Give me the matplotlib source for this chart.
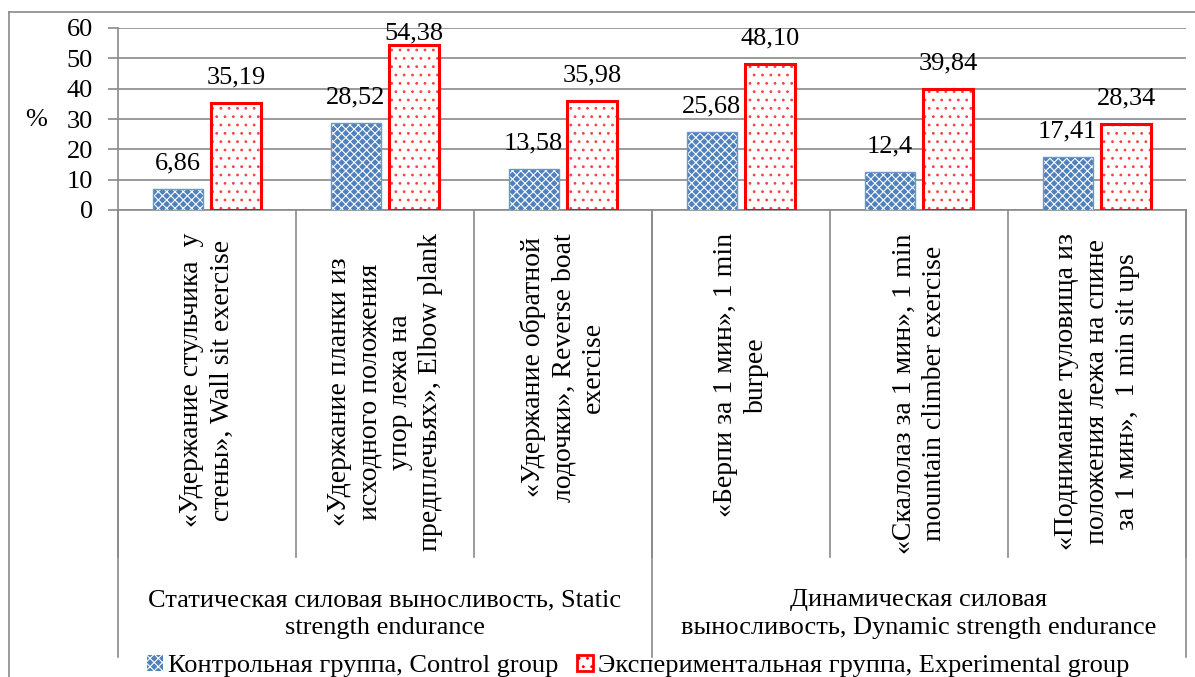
import numpy as np
import matplotlib
matplotlib.use('Agg')
from matplotlib import pyplot as plt
from matplotlib.patches import Patch
import matplotlib.transforms as mtransforms

plt.rcParams['font.family'] = ['Liberation Serif', 'DejaVu Serif']
plt.rcParams['hatch.linewidth'] = 0.8

# data
exercises = [
    '«Удержание стульчика  у\nстены», Wall sit exercise',
    '«Удержание планки из\nисходного положения\nупор лежа на\nпредплечьях», Elbow plank',
    '«Удержание обратной\nлодочки», Reverse boat\nexercise',
    '«Берпи за 1 мин», 1 min\nburpee',
    '«Скалолаз за 1 мин», 1 min\nmountain climber exercise',
    '«Поднимание туловища из\nположения лежа на спине\nза 1 мин»,  1 min sit ups',
]
groups = ['Статическая силовая выносливость, Static\nstrength endurance',
          'Динамическая силовая\nвыносливость, Dynamic strength endurance']
group_sizes = [3, 3]
control = [6.86, 28.52, 13.58, 25.68, 12.4, 17.41]
experimental = [35.19, 54.38, 35.98, 48.10, 39.84, 28.34]
control_labels = ['6,86', '28,52', '13,58', '25,68', '12,4', '17,41']
experimental_labels = ['35,19', '54,38', '35,98', '48,10', '39,84', '28,34']
series_names = ['Контрольная группа, Control group',
                'Экспериментальная группа, Experimental group']

W, H = 1195, 677
FS = 19
FS_CAT = 20
GRID = '#8a8a8a'
BLUE = '#4f81bd'
RED = '#ff0000'

fig = plt.figure(figsize=(W / 100, H / 100), dpi=100)
ax = fig.add_axes([118 / W, 1 - 210 / H, (1186 - 118) / W, (210 - 28) / H])

x = np.arange(len(exercises)) + 0.5
bw = 0.28
# control bars: blue fill with white lattice, then a thin blue outline
ax.bar(x - 0.165, control, bw, color=BLUE, edgecolor='white', hatch='xxxx',
       linewidth=0, zorder=3)
ax.bar(x - 0.165, control, bw, fill=False, edgecolor='#6f96cc', linewidth=1.0, zorder=4)
# experimental bars: white with red dots, thick red outline
ax.bar(x + 0.165, experimental, bw, color='white', edgecolor='#ff4040', hatch='..',
       linewidth=0, zorder=3)
ax.bar(x + 0.165, experimental, bw, fill=False, edgecolor=RED, linewidth=2.2, zorder=4)

# value labels above bars, kept inside the chart area like Excel does
def label_bars(xs, vals, texts):
    for xi, v, s in zip(xs, vals, texts):
        ax.text(xi, min(v + 8.5, 58.3), s, ha='center', va='center', fontsize=FS,
                zorder=5)

label_bars(x - 0.165, control, control_labels)
label_bars(x + 0.165, experimental, experimental_labels)

ax.set_xlim(0, len(exercises))
ax.set_ylim(0, 60)
ax.set_yticks(range(0, 61, 10))
ax.yaxis.grid(True, color=GRID, linewidth=1.2)
ax.set_axisbelow(True)
ax.set_xticks([])
ax.tick_params(axis='y', labelsize=FS, length=7, width=1.2, color=GRID, pad=11)
for side in ['top', 'right']:
    ax.spines[side].set_visible(False)
for side in ['left', 'bottom']:
    ax.spines[side].set_color(GRID)
    ax.spines[side].set_linewidth(1.2)

fig.text(36 / W, 1 - 120 / H, '%', fontsize=FS, ha='center', va='center')

# multi-level category axis
tr = mtransforms.blended_transform_factory(ax.transData, fig.transFigure)
y0 = 1 - 210 / H
for i in range(len(exercises) + 1):
    ax.plot([i, i], [y0, 1 - 557 / H], color=GRID, lw=1.2, transform=tr, clip_on=False)
edges = np.concatenate([[0], np.cumsum(group_sizes)])
for e in edges:
    ax.plot([e, e], [y0, 1 - 657 / H], color=GRID, lw=1.2, transform=tr, clip_on=False)

for xi, lab in zip(x, exercises):
    ax.text(xi, 1 - 233 / H, lab, transform=tr, rotation=90, ha='center', va='top',
            multialignment='center', fontsize=FS_CAT, linespacing=1.27)
for g, lab in enumerate(groups):
    gx = (edges[g] + edges[g + 1]) / 2
    ax.text(gx, 1 - 614 / H, lab, transform=tr, ha='center', va='center',
            multialignment='center', fontsize=FS, linespacing=1.35)

# chart area border (left and top visible)
fig.add_artist(plt.Line2D([9 / W, 9 / W], [0, 1 - 12 / H], color=GRID, lw=1.2))
fig.add_artist(plt.Line2D([9 / W, 1], [1 - 12 / H, 1 - 12 / H], color=GRID, lw=1.2))

handles = [Patch(facecolor=BLUE, edgecolor='white', hatch='xxxx', linewidth=0),
           Patch(facecolor='white', edgecolor=RED, hatch='..', linewidth=2)]
fig.legend(handles, series_names, loc='center', bbox_to_anchor=(638 / W, 1 - 666 / H),
           ncol=2, frameon=False, fontsize=FS, handlelength=0.6, handleheight=0.6,
           handletextpad=0.2, columnspacing=0.7, borderpad=0)

fig.savefig('out.png', dpi=100)
